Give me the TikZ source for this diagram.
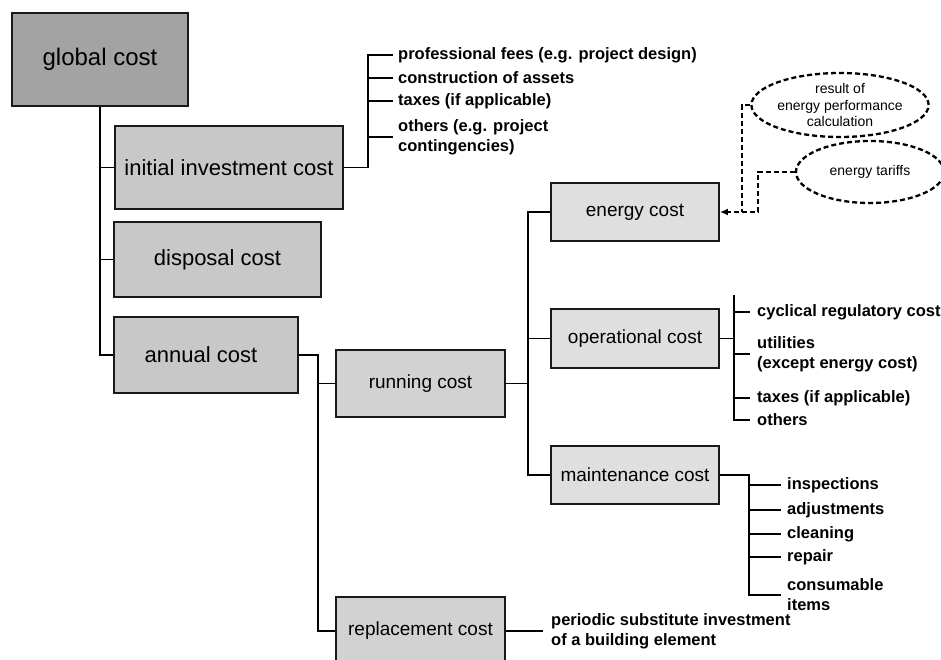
\documentclass[tikz,border=0pt]{standalone}
\usepackage{fontspec}
\setmainfont{Liberation Sans}
\usetikzlibrary{arrows.meta,shapes.geometric}
\definecolor{gdark}{HTML}{A3A3A3}
\definecolor{gmid}{HTML}{C8C8C8}
\definecolor{grun}{HTML}{D2D2D2}
\definecolor{glight}{HTML}{DFDFDF}
\begin{document}
\begin{tikzpicture}[x=1pt,y=-1pt,
  costbox/.style={draw=black!90,line width=1.9pt,inner sep=0pt,align=center},
  lvlone/.style={costbox,fill=gdark,font=\fontsize{24}{28}\selectfont},
  lvltwo/.style={costbox,fill=gmid,font=\fontsize{22}{26}\selectfont},
  lvlthree/.style={costbox,fill=grun,font=\fontsize{19}{23}\selectfont},
  lvlfour/.style={costbox,fill=glight,font=\fontsize{19}{23}\selectfont},
  item/.style={anchor=west,inner ysep=0pt,align=left,font=\fontsize{16.5}{20}\selectfont\bfseries},
  link/.style={line width=1.9pt,black},
  dlink/.style={line width=2.3pt,black,dash pattern=on 5pt off 3pt},
  bubble/.style={ellipse,draw,line width=2.3pt,dash pattern=on 5pt off 3pt,inner sep=0pt,align=center,font=\fontsize{14}{16.7}\selectfont}
]
\useasboundingbox (0,0) rectangle (941,659);

% boxes
\node[lvlone,minimum width=176pt,minimum height=93pt] (global) at (100,59.5) {global cost};
\node[lvltwo,minimum width=228pt,minimum height=83pt] (initial) at (229,167.5) {initial investment cost};
\node[lvltwo,minimum width=207pt,minimum height=75pt] (disposal) at (217.5,259.5) {disposal cost};
\node[lvltwo,minimum width=184pt,minimum height=76pt] (annual) at (206,355) {annual cost\hspace*{10pt}};
\node[lvlthree,minimum width=169pt,minimum height=67pt] (running) at (420.5,383.5) {running cost};
\node[lvlthree,minimum width=169pt,minimum height=68pt] (replacement) at (420.5,631) {replacement cost};
\node[lvlfour,minimum width=168pt,minimum height=58pt] (energy) at (635,212) {energy cost};
\node[lvlfour,minimum width=168pt,minimum height=59pt] (operational) at (635,338.5) {operational cost};
\node[lvlfour,minimum width=168pt,minimum height=58pt] (maintenance) at (635,475) {maintenance cost};

% ellipses
\node[bubble,minimum width=156pt,minimum height=64pt] (result) at (840,105) {result of\\energy performance\\calculation};
\node[bubble,minimum width=148pt,minimum height=62pt] (tariffs) at (870,172) {energy tariffs};

% trunk
\draw[link] (global.south) |- (annual.west);
\draw[link] (global.south |- initial.west) -- (initial.west);
\draw[link] (global.south |- disposal.west) -- (disposal.west);

% annual branch
\coordinate (ajoin) at (318,355);
\draw[link] (annual.east) -- (ajoin) |- (replacement.west);
\draw[link] (ajoin |- running.west) -- (running.west);

% running branch
\coordinate (rjoin) at (528,383.5);
\draw[link] (running.east) -- (rjoin);
\draw[link] (energy.west) -| (rjoin |- maintenance.west) -- (maintenance.west);
\draw[link] (rjoin |- operational.west) -- (operational.west);

% initial items
\node[item,inner xsep=5pt] (i1) at (393,55) {professional fees (e.g. project design)};
\node[item,inner xsep=5pt] (i2) at (393,78) {construction of assets};
\node[item,inner xsep=5pt] (i3) at (393,101) {taxes (if applicable)};
\node[item,inner xsep=5pt] (i4) at (393,137) {others (e.g. project\\contingencies)};
\coordinate (ib) at (368,167.5);
\draw[link] (initial.east) -- (ib) |- (i1.west);
\draw[link] (ib |- i2.west) -- (i2.west);
\draw[link] (ib |- i3.west) -- (i3.west);
\draw[link] (ib |- i4.west) -- (i4.west);

% operational items
\node[item,inner xsep=7pt] (o1) at (750,312) {cyclical regulatory cost};
\node[item,inner xsep=7pt] (o2) at (750,354) {utilities\\(except energy cost)};
\node[item,inner xsep=7pt] (o3) at (750,398) {taxes (if applicable)};
\node[item,inner xsep=7pt] (o4) at (750,420) {others};
\coordinate (ob) at (734,338.5);
\coordinate (obtop) at (734,295);
\draw[link] (operational.east) -- (ob);
\draw[link] (obtop) |- (o4.west);
\draw[link] (ob |- o1.west) -- (o1.west);
\draw[link] (ob |- o2.west) -- (o2.west);
\draw[link] (ob |- o3.west) -- (o3.west);

% maintenance items
\node[item,inner xsep=6pt] (m1) at (781,485) {inspections};
\node[item,inner xsep=6pt] (m2) at (781,510) {adjustments};
\node[item,inner xsep=6pt] (m3) at (781,534) {cleaning};
\node[item,inner xsep=6pt] (m4) at (781,557) {repair};
\node[item,inner xsep=6pt] (m5) at (781,595) {consumable\\items};
\coordinate (mb) at (749,475);
\draw[link] (maintenance.east) -- (mb) |- (m5.west);
\draw[link] (mb |- m1.west) -- (m1.west);
\draw[link] (mb |- m2.west) -- (m2.west);
\draw[link] (mb |- m3.west) -- (m3.west);
\draw[link] (mb |- m4.west) -- (m4.west);

% replacement item
\node[item,inner xsep=8pt] (r1) at (543,631) {periodic substitute investment\\of a building element};
\draw[link] (replacement.east) -- (r1.west);

% dashed inputs
\coordinate (d1) at (742,212);
\coordinate (d2) at (758,212);
\draw[dlink] (result.west) -| (d1);
\draw[dlink,-{Latex[length=8pt,width=7pt]}] (tariffs.west) -| (d2) -- (energy.east);
\end{tikzpicture}
\end{document}
